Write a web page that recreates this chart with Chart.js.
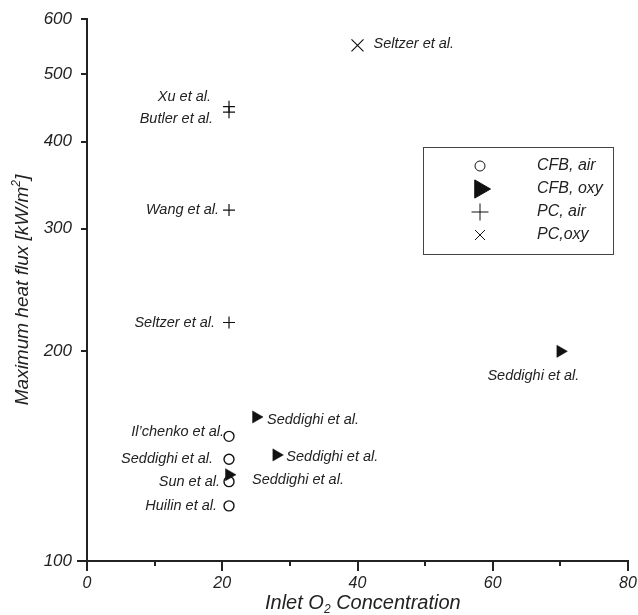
<!DOCTYPE html>
<html>
<head>
<meta charset="utf-8">
<script src="https://cdn.jsdelivr.net/npm/chart.js@4.4.1/dist/chart.umd.min.js"></script>
<style>
  html, body { margin: 0; padding: 0; background: #fff; }
  #wrap { position: relative; width: 638px; height: 615px; }
</style>
</head>
<body>
<div id="wrap"><canvas id="chart"></canvas></div>
<script>
// Max heat flux vs inlet O2, log y-axis.

var X_TICKS = [0, 20, 40, 60, 80];
var X_MINOR = [10, 30, 50, 70];
var Y_TICKS = [100, 200, 300, 400, 500, 600];

var CFB_AIR_X = [21, 21, 21, 21];
var CFB_AIR_Y = [151, 140, 130, 120];
var CFB_AIR_REFS = ['Il\u2019chenko et al.', 'Seddighi et al.', 'Sun et al.', 'Huilin et al.'];

var CFB_OXY_X = [25, 28, 21, 70];
var CFB_OXY_Y = [161, 142, 133, 200];
var CFB_OXY_REFS = ['Seddighi et al.', 'Seddighi et al.', 'Seddighi et al.', 'Seddighi et al.'];

var PC_AIR_X = [21, 21, 21, 21];
var PC_AIR_Y = [449, 441, 319, 220];
var PC_AIR_REFS = ['Xu et al.', 'Butler et al.', 'Wang et al.', 'Seltzer et al.'];

var PC_OXY_X = [40];
var PC_OXY_Y = [550];
var PC_OXY_REFS = ['Seltzer et al.'];

var SERIES_NAMES = ['CFB, air', 'CFB, oxy', 'PC, air', 'PC,oxy'];

// where each reference label sits relative to its marker (px)
var LABEL_PLACEMENT = [
  [['right', -5, -4], ['right', -16, 0], ['right', -9, 0], ['right', -12, 0]],
  [['left', 11, 3], ['left', 10, 2], ['left', 23, 5], ['center', -27, 25]],
  [['right', -18, -10], ['right', -16, 7], ['right', -10, 0], ['right', -14, 0]],
  [['left', 16, -1]]
];

var INK = '#222';
var FONT = "'Liberation Sans', Arial, sans-serif";

function pts(xs, ys) {
  return xs.map(function (x, i) { return { x: x, y: ys[i] }; });
}

var STYLES = [
  { pointStyle: 'circle', radius: 5, rotation: 0, borderWidth: 1.4, fill: 'rgba(0,0,0,0)' },
  { pointStyle: 'triangle', radius: 7, rotation: 90, borderWidth: 0.5, fill: '#111' },
  { pointStyle: 'cross', radius: 6, rotation: 0, borderWidth: 1.2, fill: '#111' },
  { pointStyle: 'crossRot', radius: 8.5, rotation: 0, borderWidth: 1.2, fill: '#111' }
];

var SERIES_DATA = [
  pts(CFB_AIR_X, CFB_AIR_Y),
  pts(CFB_OXY_X, CFB_OXY_Y),
  pts(PC_AIR_X, PC_AIR_Y),
  pts(PC_OXY_X, PC_OXY_Y)
];
var SERIES_REFS = [CFB_AIR_REFS, CFB_OXY_REFS, PC_AIR_REFS, PC_OXY_REFS];

var datasets = SERIES_DATA.map(function (data, i) {
  var s = STYLES[i];
  return {
    label: SERIES_NAMES[i],
    data: data,
    showLine: false,
    pointStyle: s.pointStyle,
    pointRadius: s.radius,
    pointRotation: s.rotation,
    pointBorderWidth: s.borderWidth,
    pointBorderColor: '#111',
    pointBackgroundColor: s.fill,
    order: i === 1 ? 0 : 1
  };
});

// reference names next to each marker
var refLabels = {
  id: 'refLabels',
  afterDatasetsDraw: function (chart) {
    var ctx = chart.ctx;
    ctx.save();
    ctx.font = 'italic 14.5px ' + FONT;
    ctx.fillStyle = INK;
    ctx.textBaseline = 'middle';
    chart.data.datasets.forEach(function (ds, i) {
      var meta = chart.getDatasetMeta(i);
      meta.data.forEach(function (el, j) {
        var p = LABEL_PLACEMENT[i][j];
        ctx.textAlign = p[0];
        ctx.fillText(SERIES_REFS[i][j], el.x + p[1], el.y + p[2]);
      });
    });
    ctx.restore();
  }
};

// outward tick marks, minor x ticks, axis titles and the boxed legend
var decorations = {
  id: 'decorations',
  afterDraw: function (chart) {
    var ctx = chart.ctx;
    var xs = chart.scales.x, ys = chart.scales.y;
    var a = chart.chartArea;
    ctx.save();
    ctx.strokeStyle = INK;
    ctx.lineWidth = 2;
    ctx.beginPath();
    X_TICKS.forEach(function (v) {
      var px = Math.round(xs.getPixelForValue(v));
      ctx.moveTo(px, a.bottom); ctx.lineTo(px, a.bottom + 10);
    });
    X_MINOR.forEach(function (v) {
      var px = Math.round(xs.getPixelForValue(v));
      ctx.moveTo(px, a.bottom); ctx.lineTo(px, a.bottom + 5);
    });
    Y_TICKS.forEach(function (v, i) {
      var py = Math.round(ys.getPixelForValue(v));
      ctx.moveTo(a.left, py); ctx.lineTo(a.left - (i === 0 ? 10 : 6), py);
    });
    ctx.stroke();

    // x title with subscript
    ctx.fillStyle = INK;
    ctx.textBaseline = 'alphabetic';
    ctx.textAlign = 'left';
    var big = 'italic 20px ' + FONT, small = 'italic 12px ' + FONT;
    var p1 = 'Inlet O', p2 = '2', p3 = ' Concentration';
    ctx.font = big;
    var w1 = ctx.measureText(p1).width;
    ctx.font = small;
    var w2 = ctx.measureText(p2).width;
    var x0 = 265, base = 609;
    ctx.font = big; ctx.fillText(p1, x0, base);
    ctx.font = small; ctx.fillText(p2, x0 + w1, base + 4);
    ctx.font = big; ctx.fillText(p3, x0 + w1 + w2, base);

    // y title with superscript, rotated
    var q1 = 'Maximum heat flux [kW/m', q2 = '2', q3 = ']';
    var bigY = 'italic 19px ' + FONT;
    ctx.font = bigY;
    var v1 = ctx.measureText(q1).width, v3 = ctx.measureText(q3).width;
    ctx.font = small;
    var v2 = ctx.measureText(q2).width;
    var vt = v1 + v2 + v3;
    ctx.translate(28, (a.top + a.bottom) / 2);
    ctx.rotate(-Math.PI / 2);
    var y0 = -vt / 2;
    ctx.font = bigY; ctx.fillText(q1, y0, 0);
    ctx.font = small; ctx.fillText(q2, y0 + v1, -8);
    ctx.font = bigY; ctx.fillText(q3, y0 + v1 + v2, 0);
    ctx.setTransform(1, 0, 0, 1, 0, 0);

    // legend box
    var bx = 423.5, by = 147.5, bw = 190, bh = 107;
    ctx.lineWidth = 1;
    ctx.strokeStyle = '#444';
    ctx.strokeRect(bx, by, bw, bh);
    var legendSizes = [5, 10.5, 8.5, 7];
    ctx.font = 'italic 16px ' + FONT;
    ctx.textBaseline = 'middle';
    SERIES_NAMES.forEach(function (name, i) {
      var ry = 166 + i * 23;
      var s = STYLES[i];
      ctx.fillStyle = s.fill;
      ctx.strokeStyle = '#111';
      Chart.helpers.drawPoint(ctx, {
        pointStyle: s.pointStyle, radius: legendSizes[i],
        rotation: s.rotation, borderWidth: s.borderWidth
      }, 480, ry);
      ctx.fillStyle = INK;
      ctx.fillText(name, 537, ry);
    });
    ctx.restore();
  }
};

new Chart(document.getElementById('chart'), {
  type: 'scatter',
  data: { datasets: datasets },
  options: {
    responsive: true,
    maintainAspectRatio: false,
    animation: false,
    events: [],
    layout: { padding: { top: 19, right: 10, left: 0, bottom: 0 } },
    plugins: { legend: { display: false }, tooltip: { enabled: false } },
    scales: {
      x: {
        type: 'linear', min: 0, max: 80,
        afterBuildTicks: function (s) { s.ticks = X_TICKS.map(function (v) { return { value: v }; }); },
        afterFit: function (s) { s.height = 54; s.paddingLeft = 0; s.paddingRight = 0; },
        grid: { display: false },
        border: { display: true, color: INK, width: 2 },
        ticks: { color: INK, padding: 5, maxRotation: 0, font: { family: FONT, size: 16, style: 'italic' } }
      },
      y: {
        type: 'logarithmic', min: 100, max: 600,
        afterBuildTicks: function (s) { s.ticks = Y_TICKS.map(function (v) { return { value: v }; }); },
        afterFit: function (s) { s.width = 87; s.paddingTop = 0; s.paddingBottom = 0; },
        grid: { display: false },
        border: { display: true, color: INK, width: 2 },
        ticks: {
          color: INK, padding: 7, font: { family: FONT, size: 17, style: 'italic' },
          callback: function (v) { return String(v); }
        }
      }
    }
  },
  plugins: [refLabels, decorations]
});
</script>
</body>
</html>
